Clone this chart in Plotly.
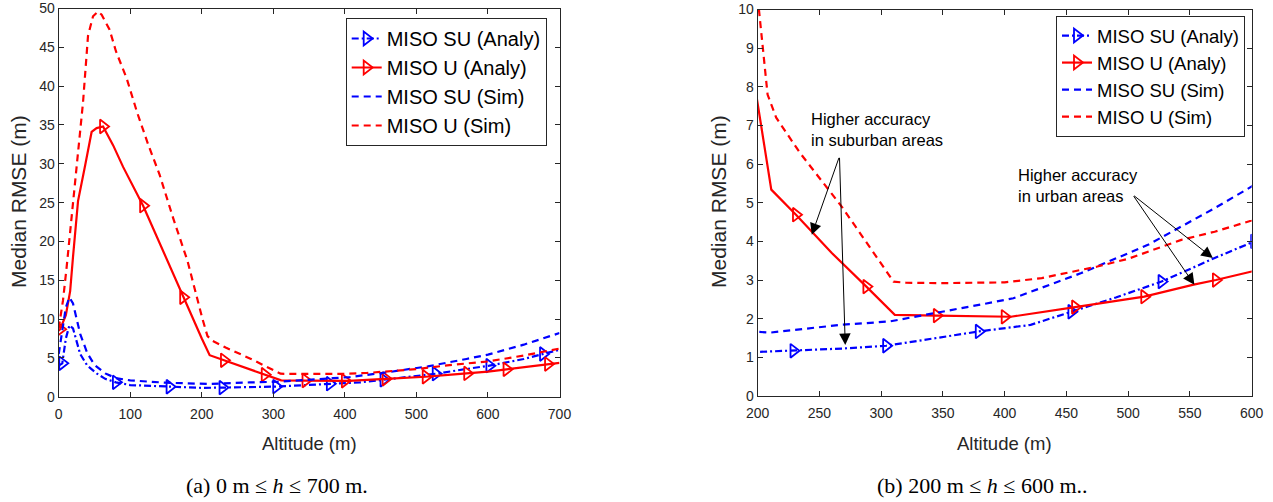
import plotly.graph_objects as go

# ---------------- data ----------------
# MISO SU (Analy) - blue dash-dot line with open right-triangle markers
su_analy_x = [0, 5, 10, 15, 20, 30, 40, 53, 65, 80, 100, 155, 200, 229, 270, 304, 340, 379, 421, 454, 490, 527, 570, 602, 650, 677, 700]
su_analy_y = [4.0, 4.3, 7.5, 9.2, 8.8, 5.5, 4.0, 3.0, 2.3, 1.85, 1.5, 1.28, 1.14, 1.17, 1.23, 1.30, 1.47, 1.67, 1.84, 2.18, 2.55, 2.96, 3.57, 4.0, 4.85, 5.5, 6.05]
su_marker_x = [5, 80, 155, 229, 304, 379, 454, 527, 602, 677]
su_marker_y = [4.3, 1.85, 1.28, 1.17, 1.30, 1.67, 2.18, 2.96, 4.0, 5.5]

# MISO U (Analy) - red solid line with open right-triangle markers
u_analy_x = [0, 2, 10, 16, 20, 27, 37, 46, 53, 62, 76, 90, 118, 146, 174, 200, 211, 231, 260, 288, 311, 345, 400, 405, 457, 513, 553, 571, 600, 626, 650, 684, 700]
u_analy_y = [8.5, 8.7, 10.5, 13.6, 18.0, 25.2, 29.8, 34.1, 34.6, 34.8, 32.4, 29.6, 24.6, 18.7, 12.8, 7.5, 5.34, 4.69, 3.7, 2.83, 2.1, 2.08, 2.05, 2.05, 2.3, 2.57, 2.88, 3.0, 3.22, 3.52, 3.8, 4.2, 4.35]
u_marker_x = [2, 62, 118, 174, 231, 288, 345, 400, 457, 513, 571, 626, 684]
u_marker_y = [8.7, 34.8, 24.6, 12.8, 4.69, 2.83, 2.08, 2.05, 2.3, 2.57, 3.0, 3.52, 4.2]

# MISO SU (Sim) - blue dashed line
su_sim_x = [0, 5, 10, 15, 20, 30, 40, 50, 65, 80, 100, 150, 200, 210, 267, 307, 383, 407, 462, 516, 570, 600, 650, 700]
su_sim_y = [5.5, 8.5, 11.5, 12.8, 12.0, 8.1, 5.6, 4.1, 3.0, 2.4, 2.1, 1.8, 1.66, 1.64, 1.84, 1.93, 2.38, 2.53, 3.18, 3.91, 4.86, 5.42, 6.7, 8.2]

# MISO U (Sim) - red dashed line
u_sim_x = [0, 6, 11, 18, 25, 34, 41, 48, 55, 60, 71, 80, 95, 110, 125, 141, 160, 180, 201, 208, 215, 234, 268, 290, 310, 320, 350, 400, 430, 475, 500, 543, 570, 600, 650, 700]
u_sim_y = [8.8, 12.4, 16.6, 23.0, 30.0, 37.9, 46.5, 49.0, 49.6, 49.2, 47.3, 44.5, 41.0, 36.5, 32.5, 28.6, 23.0, 17.5, 10.0, 7.8, 7.2, 6.3, 4.9, 3.9, 2.96, 2.93, 2.92, 2.94, 3.05, 3.35, 3.55, 4.04, 4.25, 4.54, 5.3, 6.2]

series_names = ["MISO SU (Analy)", "MISO U (Analy)", "MISO SU (Sim)", "MISO U (Sim)"]

left_x_ticks = [0, 100, 200, 300, 400, 500, 600, 700]
left_y_ticks = [0, 5, 10, 15, 20, 25, 30, 35, 40, 45, 50]
right_x_ticks = [200, 250, 300, 350, 400, 450, 500, 550, 600]
right_y_ticks = [0, 1, 2, 3, 4, 5, 6, 7, 8, 9, 10]

captions = ["(a) 0 m \u2264 <i>h</i> \u2264 700 m.", "(b) 200 m \u2264 <i>h</i> \u2264 600 m.."]

# ---------------- styling ----------------
BLUE = "#0000FF"
RED = "#FF0000"
DASH = "7px,5px"
DASHDOT = "7px,3px,2px,3px"
LW = 2.2
FONT = "Liberation Sans, Arial, sans-serif"
AX = "#262626"
MS = 12

W, H = 1273, 502

fig = go.Figure()


def add_set(xa, ya, legend):
    fig.add_trace(go.Scatter(x=su_analy_x, y=su_analy_y, mode="lines", xaxis=xa, yaxis=ya,
                             line=dict(color=BLUE, width=LW, dash=DASHDOT), showlegend=False, hoverinfo="skip"))
    fig.add_trace(go.Scatter(x=su_marker_x, y=su_marker_y, mode="markers", xaxis=xa, yaxis=ya,
                             marker=dict(symbol="triangle-right-open", size=MS, color=BLUE, line=dict(width=1.8, color=BLUE)),
                             showlegend=False))
    fig.add_trace(go.Scatter(x=u_analy_x, y=u_analy_y, mode="lines", xaxis=xa, yaxis=ya,
                             line=dict(color=RED, width=LW), showlegend=False, hoverinfo="skip"))
    fig.add_trace(go.Scatter(x=u_marker_x, y=u_marker_y, mode="markers", xaxis=xa, yaxis=ya,
                             marker=dict(symbol="triangle-right-open", size=MS, color=RED, line=dict(width=1.8, color=RED)),
                             showlegend=False))
    fig.add_trace(go.Scatter(x=su_sim_x, y=su_sim_y, mode="lines", xaxis=xa, yaxis=ya,
                             line=dict(color=BLUE, width=LW, dash=DASH), showlegend=False))
    fig.add_trace(go.Scatter(x=u_sim_x, y=u_sim_y, mode="lines", xaxis=xa, yaxis=ya,
                             line=dict(color=RED, width=LW, dash=DASH), showlegend=False))
    styles = [
        dict(mode="lines+markers", line=dict(color=BLUE, width=LW, dash=DASHDOT),
             marker=dict(symbol="triangle-right-open", size=MS, color=BLUE, line=dict(width=1.8, color=BLUE))),
        dict(mode="lines+markers", line=dict(color=RED, width=LW),
             marker=dict(symbol="triangle-right-open", size=MS, color=RED, line=dict(width=1.8, color=RED))),
        dict(mode="lines", line=dict(color=BLUE, width=LW, dash=DASH)),
        dict(mode="lines", line=dict(color=RED, width=LW, dash=DASH)),
    ]
    for name, st in zip(series_names, styles):
        fig.add_trace(go.Scatter(x=[None], y=[None], name=name, xaxis=xa, yaxis=ya,
                                 legend=legend, showlegend=True, **st))


add_set("x", "y", "legend")
add_set("x2", "y2", "legend2")


def axis(domain, rng, ticks, anchor, standoff):
    return dict(domain=domain, range=rng, tickvals=ticks, ticktext=[str(t) for t in ticks],
                anchor=anchor, showline=True, linecolor=AX, linewidth=1, mirror="ticks",
                ticks="inside", ticklen=5, tickcolor=AX, tickwidth=1, showgrid=False, zeroline=False,
                tickfont=dict(family=FONT, size=14, color=AX), automargin=False,
                ticklabeloverflow="allow", ticklabelstandoff=standoff)


fig.update_layout(
    width=W, height=H,
    margin=dict(l=0, r=0, t=0, b=0),
    paper_bgcolor="white", plot_bgcolor="white",
    xaxis=axis([58.7 / W, 559.5 / W], [0, 700], left_x_ticks, "y", 4),
    yaxis=axis([1 - 396.7 / H, 1 - 8.5 / H], [0, 50], left_y_ticks, "x", 0),
    xaxis2=axis([757.7 / W, 1251.7 / W], [200, 600], right_x_ticks, "y2", 4),
    yaxis2=axis([1 - 396 / H, 1 - 9.5 / H], [0, 10], right_y_ticks, "x2", 0),
    legend=dict(x=546.7 / W, y=1 - 18 / H, xanchor="right", yanchor="top", bgcolor="white",
                bordercolor=AX, borderwidth=1, font=dict(family=FONT, size=20, color="black"),
                itemwidth=30, tracegroupgap=0),
    legend2=dict(x=1245 / W, y=1 - 16 / H, xanchor="right", yanchor="top", bgcolor="white",
                 bordercolor=AX, borderwidth=1, font=dict(family=FONT, size=18.5, color="black"),
                 itemwidth=30, tracegroupgap=0),
    showlegend=True,
)

ann = []
ann.append(dict(text="Altitude (m)", x=(58.7 + 559.5) / 2 / W, y=1 - 443 / H, xref="paper", yref="paper",
                showarrow=False, font=dict(family=FONT, size=18.5, color=AX), xanchor="center", yanchor="middle"))
ann.append(dict(text="Altitude (m)", x=(757.7 + 1251.7) / 2 / W, y=1 - 443 / H, xref="paper", yref="paper",
                showarrow=False, font=dict(family=FONT, size=18.5, color=AX), xanchor="center", yanchor="middle"))
ann.append(dict(text="Median RMSE (m)", x=18 / W, y=1 - 202 / H, xref="paper", yref="paper", textangle=-90,
                showarrow=False, font=dict(family=FONT, size=21, color=AX), xanchor="center", yanchor="middle"))
ann.append(dict(text="Median RMSE (m)", x=718 / W, y=1 - 202 / H, xref="paper", yref="paper", textangle=-90,
                showarrow=False, font=dict(family=FONT, size=21, color=AX), xanchor="center", yanchor="middle"))
ann.append(dict(text=captions[0], x=277 / W, y=1 - 485 / H, xref="paper", yref="paper", showarrow=False,
                font=dict(family="Liberation Serif, Times New Roman, serif", size=22, color="black"),
                xanchor="center", yanchor="middle"))
ann.append(dict(text=captions[1], x=982 / W, y=1 - 485 / H, xref="paper", yref="paper", showarrow=False,
                font=dict(family="Liberation Serif, Times New Roman, serif", size=22, color="black"),
                xanchor="center", yanchor="middle"))
ann.append(dict(text="Higher accuracy<br>in suburban areas", x=241.9, y=6.9, xref="x2", yref="y2",
                showarrow=False, align="left", xanchor="left", yanchor="middle",
                font=dict(family=FONT, size=16.5, color="black")))
ann.append(dict(text="Higher accuracy<br>in urban areas", x=408.8, y=5.45, xref="x2", yref="y2",
                showarrow=False, align="left", xanchor="left", yanchor="middle",
                font=dict(family=FONT, size=16.5, color="black")))
for (hx, hy, tx, ty) in [(243.8, 4.17, 266.2, 6.2), (270.9, 1.32, 266.2, 6.2),
                         (568.5, 3.57, 503.6, 5.21), (553.6, 2.88, 503.6, 5.21)]:
    ann.append(dict(x=hx, y=hy, ax=tx, ay=ty, xref="x2", yref="y2", axref="x2", ayref="y2",
                    text="", showarrow=True, arrowhead=2, arrowsize=2.3, arrowwidth=1, arrowcolor="black"))

fig.update_layout(annotations=ann)

fig.write_html("out.html", config={"displayModeBar": False},
               post_script="document.body.style.margin='0';document.body.style.overflow='hidden';")
